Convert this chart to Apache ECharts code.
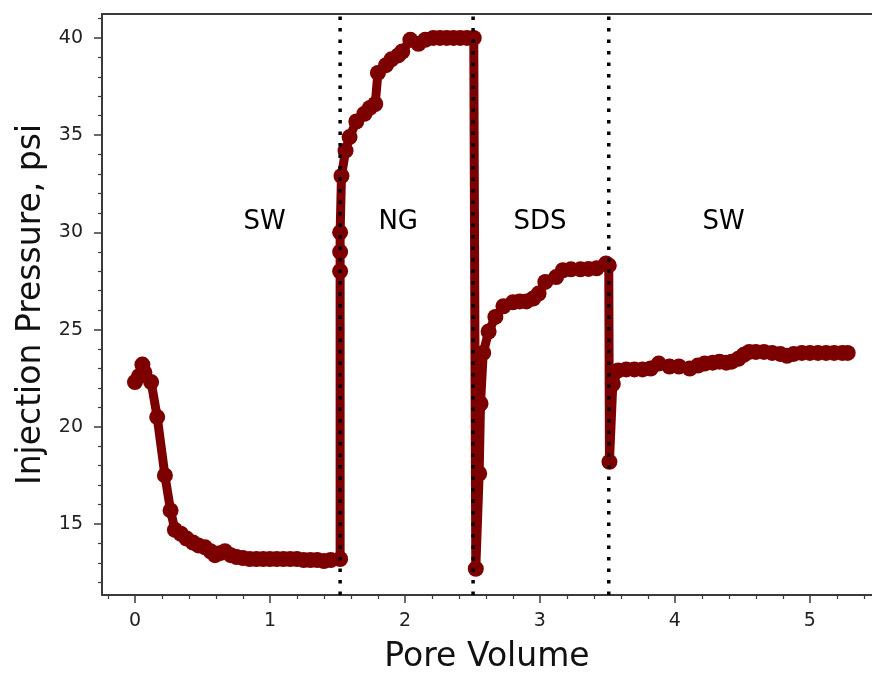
<!DOCTYPE html>
<html>
<head>
<meta charset="utf-8">
<script src="https://cdn.jsdelivr.net/npm/echarts@6/dist/echarts.min.js"></script>
<style>
  html, body { margin: 0; padding: 0; background: #fff; }
  #main { width: 872px; height: 673px; }
</style>
</head>
<body>
<div id="main"></div>
<script type="text/javascript">
    // 读图得到的数据 (pore volume, injection pressure)
    var poreVolume = [
        0.00, 0.03, 0.055, 0.07, 0.12, 0.165, 0.222, 0.264, 0.296, 0.34,
        0.383, 0.43, 0.47, 0.52, 0.56, 0.593, 0.63, 0.667, 0.71, 0.753,
        0.80, 0.85, 0.90, 0.95, 1.00, 1.05, 1.10, 1.15, 1.20, 1.25,
        1.30, 1.35, 1.40, 1.45, 1.52,
        1.52, 1.52, 1.52, 1.53, 1.56, 1.59, 1.64, 1.70, 1.74, 1.78,
        1.80, 1.86, 1.90, 1.95, 1.98, 2.04, 2.10, 2.15, 2.21, 2.26,
        2.31, 2.36, 2.41, 2.46, 2.51,
        2.525, 2.55, 2.56, 2.58, 2.62, 2.67, 2.73, 2.80, 2.85, 2.90,
        2.95, 2.99, 3.04, 3.12, 3.17, 3.23, 3.30, 3.36, 3.42, 3.49, 3.51,
        3.515, 3.54, 3.58, 3.64, 3.70, 3.76, 3.82, 3.88, 3.96, 4.03,
        4.11, 4.17, 4.22, 4.28, 4.33, 4.38, 4.42, 4.47, 4.51, 4.55,
        4.60, 4.66, 4.72, 4.78, 4.83, 4.88, 4.94, 5.00, 5.06, 5.12,
        5.18, 5.24, 5.28
    ];
    var pressure = [
        22.3, 22.6, 23.2, 22.8, 22.3, 20.5, 17.5, 15.7, 14.7, 14.5,
        14.25, 14.05, 13.9, 13.8, 13.6, 13.4, 13.5, 13.6, 13.4, 13.3,
        13.25, 13.2, 13.2, 13.2, 13.2, 13.2, 13.2, 13.2, 13.2, 13.15,
        13.15, 13.15, 13.1, 13.15, 13.2,
        28.0, 29.0, 30.0, 32.9, 34.2, 34.9, 35.7, 36.1, 36.4, 36.6,
        38.2, 38.6, 38.9, 39.1, 39.3, 39.9, 39.7, 39.9, 40.0, 40.0,
        40.0, 40.0, 40.0, 40.0, 40.0,
        12.7, 17.6, 21.2, 23.8, 24.9, 25.65, 26.2, 26.4, 26.45, 26.45,
        26.6, 26.85, 27.45, 27.7, 28.05, 28.1, 28.1, 28.12, 28.15, 28.4, 28.3,
        18.2, 22.2, 22.9, 22.95, 22.95, 22.95, 23.0, 23.25, 23.1, 23.1,
        23.0, 23.15, 23.25, 23.3, 23.35, 23.3, 23.35, 23.5, 23.7, 23.85,
        23.85, 23.85, 23.8, 23.75, 23.65, 23.75, 23.8, 23.8, 23.8, 23.8,
        23.8, 23.8, 23.8
    ];

    // 阶段分界线和标签
    var phaseLines = [1.52, 2.505, 3.51];
    var phaseNames = ['SW', 'NG', 'SDS', 'SW'];
    var phaseLabelX = [0.96, 1.95, 3.0, 4.36];
    var phaseLabelY = 30.5;

    // 坐标轴范围和刻度
    var xMin = -0.244, xMax = 5.46;
    var yMin = 11.35, yMax = 41.23;
    var xMajorTicks = [0, 1, 2, 3, 4, 5];
    var xMinorTicks = [-0.2, 0.2, 0.4, 0.6, 0.8, 1.2, 1.4, 1.6, 1.8, 2.2, 2.4, 2.6, 2.8,
        3.2, 3.4, 3.6, 3.8, 4.2, 4.4, 4.6, 4.8, 5.2, 5.4];
    var yMajorTicks = [15, 20, 25, 30, 35, 40];
    var yMinorTicks = [12, 13, 14, 16, 17, 18, 19, 21, 22, 23, 24, 26, 27, 28, 29,
        31, 32, 33, 34, 36, 37, 38, 39, 41];

    var myChart = echarts.init(document.getElementById('main'));

    var font = 'DejaVu Sans';
    var axisColor = '#3a3a3a';
    var red = '#7d0000';

    var mainData = poreVolume.map(function (x, i) { return [x, pressure[i]]; });

    var series = [
        {
            type: 'line',
            data: mainData,
            smooth: false,
            symbol: 'circle',
            symbolSize: 16,
            itemStyle: { color: red },
            lineStyle: { color: red, width: 9, cap: 'round', join: 'round' },
            z: 2
        }
    ];
    phaseLines.forEach(function (x) {
        series.push({
            type: 'line',
            data: [[x, yMin], [x, yMax]],
            symbol: 'none',
            lineStyle: { color: '#000', width: 3.5, type: [3.5, 8] },
            z: 5
        });
    });
    series.push({
        type: 'scatter',
        symbolSize: 0,
        itemStyle: { opacity: 1 },
        data: phaseNames.map(function (n, i) { return { name: n, value: [phaseLabelX[i], phaseLabelY] }; }),
        label: {
            show: true,
            position: 'inside',
            formatter: '{b}',
            fontFamily: font,
            fontSize: 26,
            color: '#000',
            opacity: 1
        },
        z: 6
    });

    var option = {
        animation: false,
        backgroundColor: '#fff',
        grid: { left: 102, right: 0, top: 14, bottom: 78, outerBoundsMode: 'none', containLabel: false },
        xAxis: [
            {
                type: 'value', min: xMin, max: xMax,
                name: 'Pore Volume', nameLocation: 'middle', nameGap: 46,
                nameTextStyle: { fontFamily: font, fontSize: 33, color: '#111' },
                axisLine: { show: true, onZero: false, lineStyle: { color: axisColor, width: 2 } },
                axisTick: { show: true, inside: false, length: 8, customValues: xMajorTicks, lineStyle: { color: axisColor, width: 1.5 } },
                axisLabel: { show: true, customValues: xMajorTicks, margin: 17, fontFamily: font, fontSize: 19, color: '#222' },
                splitLine: { show: false }
            },
            {
                type: 'value', min: xMin, max: xMax, position: 'bottom',
                axisLine: { show: false, onZero: false },
                axisTick: { show: true, length: 4, customValues: xMinorTicks, lineStyle: { color: axisColor, width: 1.2 } },
                axisLabel: { show: false },
                splitLine: { show: false }
            },
            {
                type: 'value', min: xMin, max: xMax, position: 'top',
                axisLine: { show: true, onZero: false, lineStyle: { color: axisColor, width: 2 } },
                axisTick: { show: false },
                axisLabel: { show: false },
                splitLine: { show: false }
            }
        ],
        yAxis: [
            {
                type: 'value', min: yMin, max: yMax,
                name: 'Injection Pressure, psi', nameLocation: 'middle', nameGap: 54,
                nameTextStyle: { fontFamily: font, fontSize: 33, color: '#111' },
                axisLine: { show: true, onZero: false, lineStyle: { color: axisColor, width: 2 } },
                axisTick: { show: true, length: 8, customValues: yMajorTicks, lineStyle: { color: axisColor, width: 1.5 } },
                axisLabel: { show: true, customValues: yMajorTicks, margin: 19, fontFamily: font, fontSize: 19, color: '#222' },
                splitLine: { show: false }
            },
            {
                type: 'value', min: yMin, max: yMax, position: 'left',
                axisLine: { show: false, onZero: false },
                axisTick: { show: true, length: 4, customValues: yMinorTicks, lineStyle: { color: axisColor, width: 1.2 } },
                axisLabel: { show: false },
                splitLine: { show: false }
            }
        ],
        series: series
    };
    myChart.setOption(option);
</script>
</body>
</html>
